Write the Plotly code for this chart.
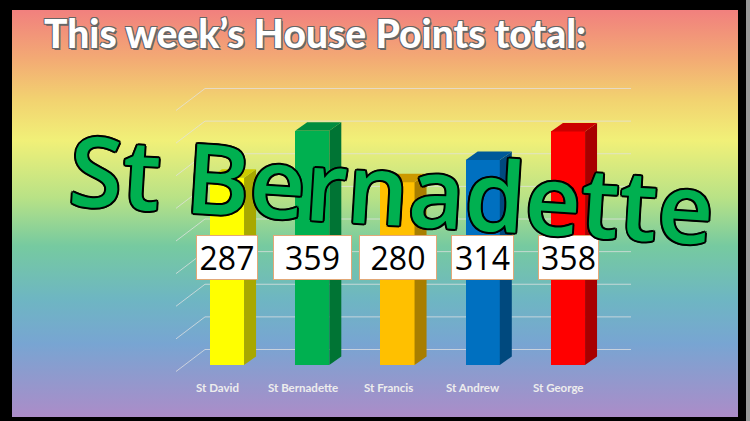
import base64
import numpy as np
import plotly.graph_objects as go

# ---------------- data ----------------
houses = ["St David", "St Bernadette", "St Francis", "St Andrew", "St George"]
points = [287, 359, 280, 314, 358]
axis_ticks = [0, 50, 100, 150, 200, 250, 300, 350, 400]
title_text = "This week\u2019s House Points total:"
winner = "St Bernadette"

# ---------------- style ----------------
front_cols = ["#FFFF00", "#00B050", "#FFC000", "#0070C0", "#FF0000"]


def shade(hx, f):
    r, g, b = int(hx[1:3], 16), int(hx[3:5], 16), int(hx[5:7], 16)
    return "#%02X%02X%02X" % (int(r * f), int(g * f), int(b * f))


side_cols = [shade(c, 0.66) for c in front_cols]
top_cols = [shade(c, 0.80) for c in front_cols]
box_w = [62, 79, 78, 63, 61]

W, H = 750, 421
PX_PER_X = 85.25
X0_PX = 227
PX_PER_Y = 0.6525
Y0_PX = 365
BAR_HALF = 0.2
DDX, DDY = 12 / PX_PER_X, 8.5 / PX_PER_Y          # bar depth
WALL_DY = 15.5 / PX_PER_Y                            # back wall offset
FLOOR_DX, FLOOR_DY = -29 / PX_PER_X, -22 / PX_PER_Y  # floor depth (front-left)
WALL_X0 = (205 - X0_PX) / PX_PER_X
WALL_X1 = (631 - X0_PX) / PX_PER_X

pos = np.arange(len(houses))

fig = go.Figure()

# gradient background as inline svg image
svg = (
    '<svg xmlns="http://www.w3.org/2000/svg" width="100" height="100" preserveAspectRatio="none">'
    '<defs><linearGradient id="g" x1="0" y1="0" x2="0" y2="1">'
    '<stop offset="0" stop-color="rgb(241,128,126)"/>'
    '<stop offset="0.12" stop-color="rgb(243,170,116)"/>'
    '<stop offset="0.22" stop-color="rgb(242,210,112)"/>'
    '<stop offset="0.32" stop-color="rgb(241,240,120)"/>'
    '<stop offset="0.46" stop-color="rgb(185,226,134)"/>'
    '<stop offset="0.58" stop-color="rgb(118,202,160)"/>'
    '<stop offset="0.71" stop-color="rgb(110,182,194)"/>'
    '<stop offset="0.82" stop-color="rgb(120,165,210)"/>'
    '<stop offset="1" stop-color="rgb(172,140,200)"/>'
    '</linearGradient></defs>'
    '<rect x="0" y="0" width="100" height="100" fill="url(#g)"/></svg>'
)
src = "data:image/svg+xml;base64," + base64.b64encode(svg.encode()).decode()

shapes = []
# back wall gridlines + floor diagonals
for v in axis_ticks:
    yb = v + WALL_DY
    shapes.append(dict(type="line", xref="x", yref="y", x0=WALL_X0, x1=WALL_X1, y0=yb, y1=yb,
                       line=dict(color="rgba(225,225,225,0.75)", width=1), layer="below"))
    shapes.append(dict(type="line", xref="x", yref="y", x0=WALL_X0, x1=WALL_X0 + FLOOR_DX,
                       y0=yb, y1=yb + FLOOR_DY,
                       line=dict(color="rgba(225,225,225,0.75)", width=1), layer="below"))
# right grey shadow edge
shapes.append(dict(type="rect", xref="paper", yref="paper", x0=746 / W, x1=1, y0=0, y1=1,
                   fillcolor="#9A9A9A", line=dict(width=0), layer="below"))

# front faces
fig.add_trace(go.Bar(x=pos, y=points, width=2 * BAR_HALF, marker=dict(color=front_cols, line=dict(width=0)),
                     hoverinfo="skip", showlegend=False))

# side and top faces
for p, v, sc, tc in zip(pos, points, side_cols, top_cols):
    xr = p + BAR_HALF
    xl = p - BAR_HALF
    fig.add_trace(go.Scatter(x=[xr, xr + DDX, xr + DDX, xr, xr], y=[0, DDY, v + DDY, v, 0],
                             fill="toself", fillcolor=sc, mode="lines", line=dict(width=0),
                             hoverinfo="skip", showlegend=False))
    fig.add_trace(go.Scatter(x=[xl, xl + DDX, xr + DDX, xr, xl], y=[v, v + DDY, v + DDY, v, v],
                             fill="toself", fillcolor=tc, mode="lines", line=dict(width=0),
                             hoverinfo="skip", showlegend=False))

annotations = []
# category labels
for p, name in zip(pos, houses):
    annotations.append(dict(x=p, y=0, xref="x", yref="y", text="<b>" + name + "</b>", showarrow=False,
                            xshift=-9.5, yshift=-22, font=dict(family="Lato", size=11.5, color="#EDEDED")))
# value boxes
for p, v, bw in zip(pos, points, box_w):
    annotations.append(dict(x=p, y=1 - 257.5 / H, xref="x", yref="paper", text=str(v), showarrow=False,
                            width=bw - 2, height=43, bgcolor="white", bordercolor="#E2A878",
                            borderwidth=1, borderpad=0,
                            font=dict(family="Open Sans", size=32, color="black")))
# title
annotations.append(dict(x=42 / W, y=1 - 33 / H, xref="paper", yref="paper", xanchor="left", yanchor="middle",
                        text=title_text, showarrow=False,
                        font=dict(family="Lato", size=39, color="white", weight=900,
                                  shadow="1.5px 1.5px 0 #666, -1px -1px 0 #666, 1px -1px 0 #666, -1px 1px 0 #666")))
# big winner text
outline = ", ".join(f"{dx}px {dy}px 0 #000" for dx, dy in
                    [(2, 0), (-2, 0), (0, 2), (0, -2), (1.5, 1.5), (-1.5, -1.5), (1.5, -1.5), (-1.5, 1.5)])
annotations.append(dict(x=391 / W, y=1 - 187 / H, xref="paper", yref="paper", xanchor="center", yanchor="middle",
                        text=winner, showarrow=False, textangle=3.5,
                        font=dict(family="Open Sans", size=97, color="#00B050", weight=600, shadow=outline)))

fig.update_layout(
    width=W, height=H,
    margin=dict(l=0, r=0, t=0, b=0),
    paper_bgcolor="black", plot_bgcolor="rgba(0,0,0,0)",
    xaxis=dict(range=[-X0_PX / PX_PER_X, (W - X0_PX) / PX_PER_X], visible=False, fixedrange=True),
    yaxis=dict(range=[-(H - Y0_PX) / PX_PER_Y, Y0_PX / PX_PER_Y], visible=False, fixedrange=True),
    images=[dict(source=src, xref="paper", yref="paper", x=12 / W, y=1 - 10 / H,
                 sizex=(738 - 12) / W, sizey=(417 - 10) / H, sizing="stretch", layer="below",
                 xanchor="left", yanchor="top")],
    shapes=shapes,
    annotations=annotations,
    showlegend=False,
    bargap=0,
)

fig.write_html("out.html", config=dict(displayModeBar=False))
